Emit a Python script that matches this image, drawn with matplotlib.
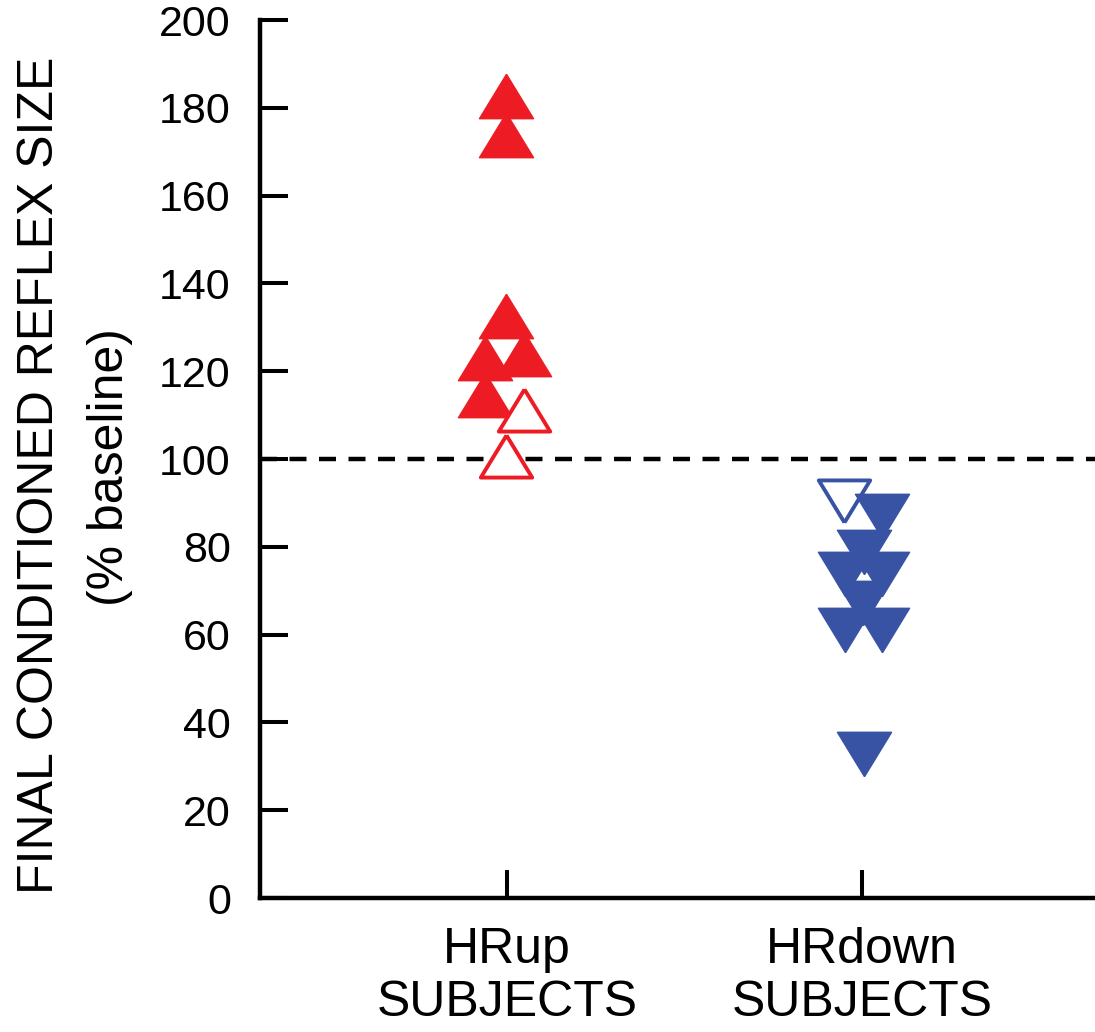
import matplotlib
matplotlib.use("Agg")
import matplotlib.pyplot as plt

plt.rcParams['font.family'] = ['Liberation Sans', 'DejaVu Sans']

# group positions and labels
categories = ["HRup\nSUBJECTS", "HRdown\nSUBJECTS"]
cat_pos = [1, 2]

# HRup subjects (upward triangles), x jitter
up_filled_x = [0.997, 0.997, 0.997, 0.938, 1.048, 0.938]
up_filled_y = [182.6, 173.9, 132.6, 123.0, 124.0, 114.5]
up_open_x = [1.048, 0.997]
up_open_y = [111.2, 100.7]

# HRdown subjects (downward triangles)
down_filled_x = [2.056, 2.006, 1.952, 2.056, 2.003, 1.952, 2.056, 2.006]
down_filled_y = [87.0, 78.8, 73.9, 73.9, 67.1, 61.0, 61.0, 32.9]
down_open_x = [1.949]
down_open_y = [90.4]

yticks = [0, 20, 40, 60, 80, 100, 120, 140, 160, 180, 200]

RED = "#ED1C24"
BLUE = "#3953A4"

# slightly squat triangles like the original
tri_up = [(0, 0.41), (-0.5, -0.41), (0.5, -0.41), (0, 0.41)]
tri_down = [(0, -0.41), (-0.5, 0.41), (0.5, 0.41), (0, -0.41)]
ms = 39
mew = 2.8

fig = plt.figure(figsize=(10.95, 10.32), dpi=100)
ax = fig.add_axes([0.2374, 0.1298, 0.7626, 0.8508])

lw_dash = 3.2
ax.axhline(100, color="black", lw=lw_dash,
           ls=(0, (17 * 0.72 / lw_dash, 12.5 * 0.72 / lw_dash)), zorder=1)

ax.plot(up_open_x, up_open_y, ls="none", marker=tri_up, ms=ms - 2, mfc="white",
        mec=RED, mew=mew, zorder=3)
ax.plot(up_filled_x, up_filled_y, ls="none", marker=tri_up, ms=ms, mfc=RED,
        mec=RED, mew=1, zorder=2)
ax.plot(down_open_x, down_open_y, ls="none", marker=tri_down, ms=ms - 2, mfc="none",
        mec=BLUE, mew=mew, zorder=2)
ax.plot(down_filled_x, down_filled_y, ls="none", marker=tri_down, ms=ms, mfc=BLUE,
        mec=BLUE, mew=1, zorder=3)

ax.set_xlim(0.304, 2.656)
ax.set_ylim(0, 200)
ax.set_yticks(yticks)
ax.set_xticks(cat_pos)
ax.set_xticklabels(categories, fontsize=36, linespacing=1.2)

ax.spines["top"].set_visible(False)
ax.spines["right"].set_visible(False)
ax.spines["left"].set_linewidth(3.2)
ax.spines["bottom"].set_linewidth(3.2)
ax.spines["left"].set_capstyle("projecting")

ax.tick_params(axis="y", direction="in", length=20, width=2.9, labelsize=31, pad=21)
ax.tick_params(axis="x", direction="in", length=20, width=2.9, pad=21)

fig.text(53 / 1095, 1 - 475 / 1032, "FINAL CONDITIONED REFLEX SIZE", rotation=90,
         rotation_mode="anchor", ha="center", va="baseline", fontsize=36)
fig.text(123 / 1095, 1 - 467 / 1032, "(% baseline)", rotation=90,
         rotation_mode="anchor", ha="center", va="baseline", fontsize=36)

fig.savefig("out.png", dpi=100)
